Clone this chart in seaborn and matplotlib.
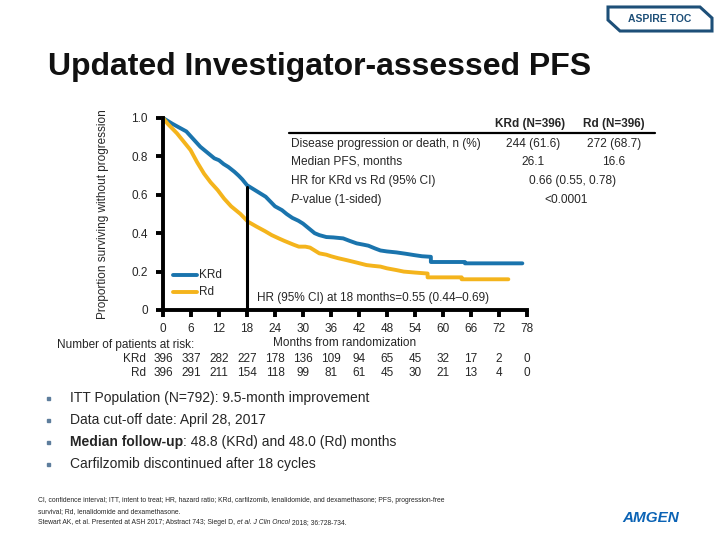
import matplotlib
matplotlib.use("Agg")
import matplotlib.pyplot as plt
from matplotlib.patches import Polygon, Rectangle
import pandas as pd
import seaborn as sns

# KM curve (months, proportion progression-free)
krd_months = [0, 1, 2, 3.5, 5, 6.5, 8, 9.5, 11, 12, 13, 14, 15.3, 16.2, 17, 18, 19, 20,
              21, 22, 23, 24, 25.5, 26.5, 27.7, 29, 30, 31, 32.5, 33.5, 35, 36.5, 38.6,
              40, 41.5, 43, 44, 45.5, 46.6, 48, 50, 52, 53.8, 55.5, 57.4, 57.4, 61,
              64.7, 64.7, 77]
krd_surv = [1.0, 0.985, 0.97, 0.95, 0.93, 0.89, 0.85, 0.82, 0.79, 0.78, 0.76, 0.745,
            0.72, 0.70, 0.68, 0.65, 0.635, 0.62, 0.605, 0.59, 0.565, 0.54, 0.52, 0.50,
            0.48, 0.465, 0.45, 0.43, 0.40, 0.39, 0.38, 0.378, 0.373, 0.36, 0.347, 0.34,
            0.335, 0.32, 0.31, 0.305, 0.30, 0.293, 0.286, 0.28, 0.277, 0.25, 0.25, 0.25,
            0.243, 0.243]
rd_months = [0, 1, 2, 3, 4.5, 5.9, 7.3, 8.8, 10.2, 11.7, 13.1, 14.6, 15.6, 16.6, 17.4,
             18.2, 20, 21.9, 23.3, 24.8, 26, 27, 28, 29.1, 30.5, 31.5, 32.5, 33.5, 35,
             36, 37.5, 39.3, 41.5, 43.6, 45, 46.6, 48, 50, 51.6, 54, 56.7, 56.7, 60, 64,
             64, 74]
rd_surv = [1.0, 0.97, 0.945, 0.92, 0.875, 0.833, 0.77, 0.71, 0.665, 0.625, 0.58, 0.54,
           0.52, 0.50, 0.48, 0.46, 0.435, 0.41, 0.39, 0.373, 0.36, 0.35, 0.34, 0.33,
           0.33, 0.325, 0.31, 0.295, 0.288, 0.28, 0.27, 0.26, 0.247, 0.234, 0.23, 0.226,
           0.217, 0.208, 0.2, 0.195, 0.19, 0.17, 0.17, 0.17, 0.16, 0.16]

month_ticks = [0, 6, 12, 18, 24, 30, 36, 42, 48, 54, 60, 66, 72, 78]
risk_krd = [396, 337, 282, 227, 178, 136, 109, 94, 65, 45, 32, 17, 2, 0]
risk_rd = [396, 291, 211, 154, 118, 99, 81, 61, 45, 30, 21, 13, 4, 0]

table_rows = ["Disease progression or death, n (%)", "Median PFS, months",
              "HR for KRd vs Rd (95% CI)"]
table_krd = ["244 (61.6)", "26.1"]
table_rd = ["272 (68.7)", "16.6"]
hr_text = "0.66 (0.55, 0.78)"
p_text = "<0.0001"

BLUE = "#1a74ad"
GOLD = "#f4b41c"

sns.set_theme(style="white")
plt.rcParams["font.family"] = ["Liberation Sans", "DejaVu Sans"]

W, H = 720, 540
fig = plt.figure(figsize=(7.2, 5.4), dpi=100)


def fx(x):
    return x / W


def fy(y):
    return 1 - y / H


def run_text(x0, yy, parts, **kw):
    # lays pieces of text one after another on a line, each with its own style
    for txt, st in parts:
        tt = fig.text(fx(x0), fy(yy), txt, **st, **kw)
        fig.canvas.draw()
        x0 = tt.get_window_extent(fig.canvas.get_renderer()).x1


ax = fig.add_axes([fx(163), fy(310), (527 - 163) / W, (310 - 118) / H])

df = pd.concat([
    pd.DataFrame({"month": krd_months, "surv": krd_surv, "arm": "KRd"}),
    pd.DataFrame({"month": rd_months, "surv": rd_surv, "arm": "Rd"}),
])
sns.lineplot(data=df, x="month", y="surv", hue="arm", palette={"KRd": BLUE, "Rd": GOLD},
             estimator=None, sort=False, linewidth=2.8, ax=ax, clip_on=False,
             legend=False)

# marker line at 18 months
ax.plot([18, 18], [0, 0.64], color="black", lw=2.2, clip_on=False)

ax.set_xlim(0, 78)
ax.set_ylim(0, 1.0)
ax.set_xticks(month_ticks)
ax.set_yticks([0, 0.2, 0.4, 0.6, 0.8, 1.0])
ax.set_yticklabels(["0", "0.2", "0.4", "0.6", "0.8", "1.0"])
for s in ["top", "right"]:
    ax.spines[s].set_visible(False)
for s in ["left", "bottom"]:
    ax.spines[s].set_linewidth(2.8)
    ax.spines[s].set_color("black")
ax.tick_params(axis="both", direction="out", length=5, width=2.8, color="black",
               labelsize=8.5, pad=6, left=True, bottom=True)
ax.tick_params(axis="x", pad=4)
ax.set_xlabel("Months from randomization", fontsize=8.5, labelpad=2)
ax.set_ylabel("Proportion surviving without progression", fontsize=8.5, labelpad=16)
ax.grid(False)

# legend drawn by hand
ax.plot([2.2, 7.2], [0.18, 0.18], color=BLUE, lw=2.8)
ax.plot([2.2, 7.2], [0.095, 0.095], color=GOLD, lw=2.8)
ax.text(7.7, 0.18, "KRd", fontsize=8.5, va="center")
ax.text(7.7, 0.095, "Rd", fontsize=8.5, va="center")
ax.text(20.2, 0.06, "HR (95% CI) at 18 months=0.55 (0.44\u20130.69)", fontsize=8.5,
        va="center")

# number at risk
fig.text(fx(57), fy(345), "Number of patients at risk:", fontsize=8.5, va="center")
xt = ax.get_xaxis_transform()
for lab, vals, yy in [("KRd", risk_krd, 359), ("Rd", risk_rd, 373)]:
    fig.text(fx(146), fy(yy), lab, fontsize=8.5, va="center", ha="right")
    for m, v in zip(month_ticks, vals):
        ax.text(m, -(yy - 310) / 192, str(v), fontsize=8.5, va="center", ha="center",
                transform=xt)

# summary table
fig.add_artist(plt.Line2D([fx(289), fx(655)], [fy(133), fy(133)], color="black", lw=1.6))
fig.text(fx(530), fy(124), "KRd (N=396)", fontsize=8.5, weight="bold", ha="center",
         va="center")
fig.text(fx(614), fy(124), "Rd (N=396)", fontsize=8.5, weight="bold", ha="center",
         va="center")
row_y = [144, 162, 181]
for i, (lab, yy) in enumerate(zip(table_rows, row_y)):
    fig.text(fx(291), fy(yy), lab, fontsize=8.6, va="center")
    if i < 2:
        fig.text(fx(533), fy(yy), table_krd[i], fontsize=8.6, ha="center", va="center")
        fig.text(fx(614), fy(yy), table_rd[i], fontsize=8.6, ha="center", va="center")
    else:
        fig.text(fx(573), fy(yy), hr_text, fontsize=8.6, ha="center", va="center")
run_text(291, 200, [("P", {"style": "italic"}), ("-value (1-sided)", {})],
         fontsize=8.6, va="center")
fig.text(fx(566), fy(200), p_text, fontsize=8.6, ha="center", va="center")

# title
fig.text(fx(48), fy(75), "Updated Investigator-assessed PFS", fontsize=23,
         weight="bold", va="baseline", color="#111111")

# TOC box
box = [(608, 7), (700, 7), (712, 18), (712, 31), (620, 31), (608, 20)]
fig.add_artist(Polygon([(fx(a), fy(b)) for a, b in box], closed=True, fill=False,
                       edgecolor="#1d4f78", lw=2.2, transform=fig.transFigure))
fig.text(fx(660), fy(19), "ASPIRE TOC", fontsize=7.5, weight="bold", color="#1d4f78",
         ha="center", va="center")

# bullets
bullets = [
    [("ITT Population (N=792): 9.5-month improvement", {})],
    [("Data cut-off date: April 28, 2017", {})],
    [("Median follow-up", {"weight": "bold"}), (": 48.8 (KRd) and 48.0 (Rd) months", {})],
    [("Carfilzomib discontinued after 18 cycles", {})],
]
for k, parts in enumerate(bullets):
    yy = 398 + 22 * k
    fig.add_artist(Rectangle((fx(47), fy(yy + 2)), 3 / W, 3 / H, color="#5d7d9c",
                             transform=fig.transFigure))
    run_text(70, yy, parts, fontsize=10, va="center")

# footnote
foot = [
    [("CI, confidence interval; ITT, intent to treat; HR, hazard ratio; KRd, carfilzomib, "
      "lenalidomide, and dexamethasone; PFS, progression-free", {})],
    [("survival; Rd, lenalidomide and dexamethasone.", {})],
    [("Stewart AK, et al. Presented at ASH 2017; Abstract 743; Siegel D, ", {}),
     ("et al. J Clin Oncol", {"style": "italic"}), (" 2018; 36:728-734.", {})],
]
for k, parts in enumerate(foot):
    run_text(38, 500 + 11.5 * k, parts, fontsize=4.9, va="center")

fig.text(fx(651), fy(518), "AMGEN", fontsize=11, weight="heavy", style="italic",
         color="#0b63b5", ha="center", va="center")

fig.savefig("out.png", dpi=100)
